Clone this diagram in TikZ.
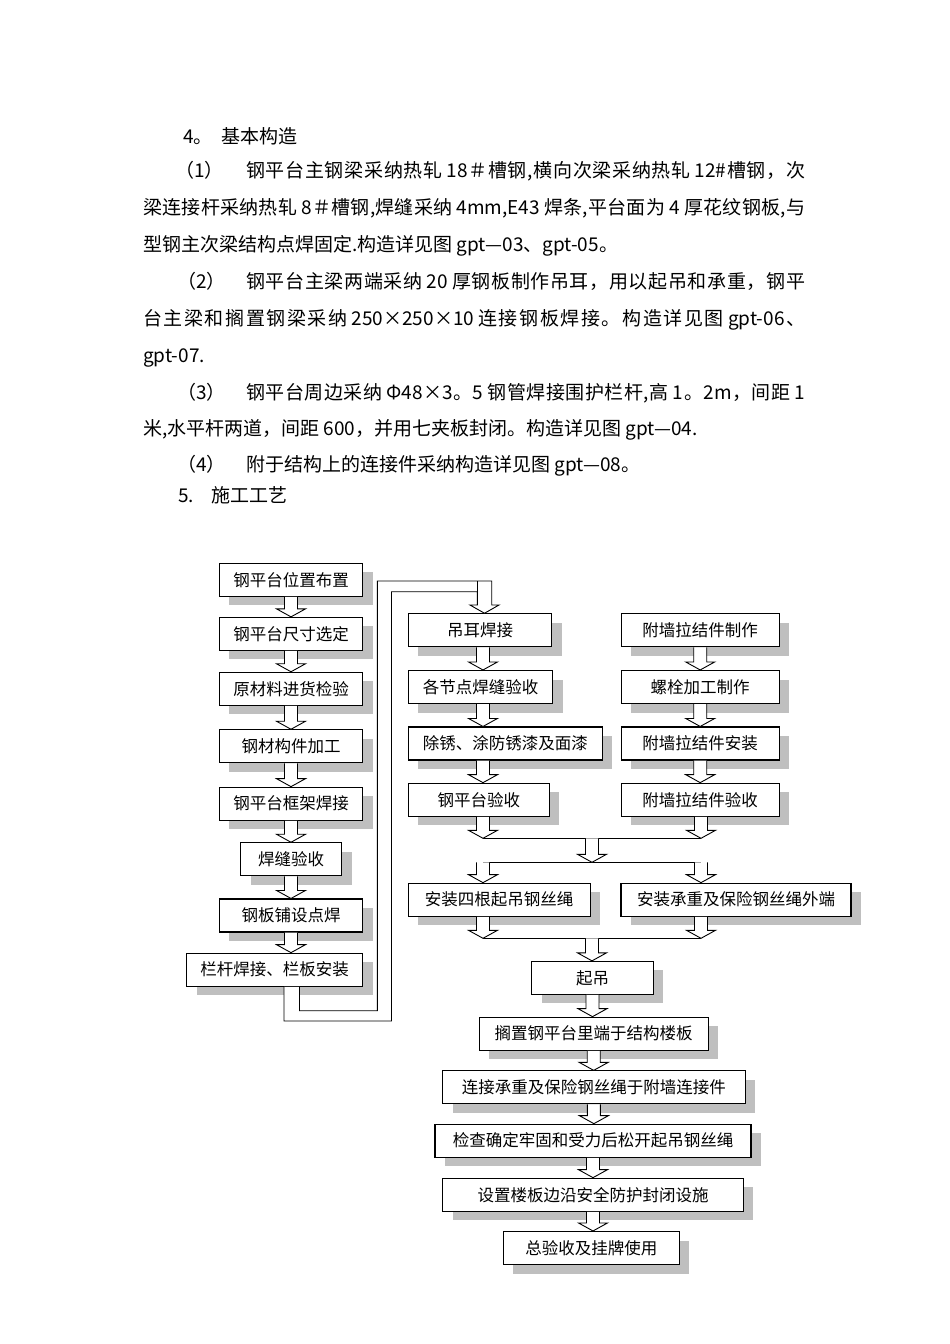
\documentclass[tikz,border=0pt]{standalone}
\usepackage{fontspec}
\usetikzlibrary{calc,shadows}
\newfontfamily\cjk{Noto Sans CJK SC}

% spread justified text lines between the CJK characters
\newcount\cjkcode
\cjkcode="3000
\loop \XeTeXcharclass\cjkcode=1 \advance\cjkcode by 1 \ifnum\cjkcode<"A000 \repeat
\cjkcode="FF00
\loop \XeTeXcharclass\cjkcode=1 \advance\cjkcode by 1 \ifnum\cjkcode<"FFF0 \repeat
\XeTeXinterchartoks 1 1 = {\hskip 0pt plus 1fil}
\XeTeXinterchartoks 0 1 = {\hskip 0pt plus 1fil}
\XeTeXinterchartoks 1 0 = {\hskip 0pt plus 1fil}

\newcommand{\bodyfont}{\cjk\fontsize{19}{19}\selectfont}
\newcommand{\boxfont}{\cjk\fontsize{16.5}{16.5}\selectfont}
\newcommand{\jline}[2]{\makebox[#1][s]{\XeTeXinterchartokenstate=1 #2}}
\newcommand{\flowarrow}[2]{%
    \path[arrowbody] ($(#1)+(-6.5,0)$) -- ($(#1 |- #2)+(-6.5,-8)$)
    -- ($(#1 |- #2)+(-14.5,-8)$) -- (#1 |- #2) -- ($(#1 |- #2)+(14.5,-8)$)
    -- ($(#1 |- #2)+(6.5,-8)$) -- ($(#1)+(6.5,0)$);}

\begin{document}
\begin{tikzpicture}
    [
        x=1pt, y=-1pt,
        para/.style={anchor=base west, inner sep=0pt, font=\bodyfont},
        stepbox/.style={draw, fill=white, line width=1.1pt, minimum height=33pt,
            inner sep=0pt, font=\boxfont,
            drop shadow={fill=black!25, opacity=1, shadow xshift=10pt, shadow yshift=-9pt}},
        arrowbody/.style={draw, fill=white, line width=0.9pt, line join=miter},
        joinline/.style={line width=0.9pt},
    ]
    \useasboundingbox (0,0) rectangle (950,1344);

    % text
    \node (hd4)  at (183,143.7) [para] {4。};
    \node (hd4t) at (221.7,143.7) [para] {基本构造};
    \node (p1n)  at (175,177.7) [para] {（1）};
    \node (p1a)  at (246,177.7) [para] {\jline{559pt}{钢平台主钢梁采纳热轧 18＃槽钢,横向次梁采纳热轧 12\#槽钢，次}};
    \node (p1b)  at (143,214.3) [para] {\jline{662pt}{梁连接杆采纳热轧 8＃槽钢,焊缝采纳 4mm,E43 焊条,平台面为 4 厚花纹钢板,与}};
    \node (p1c)  at (143,251)   [para] {型钢主次梁结构点焊固定.构造详见图 gpt—03、gpt-05。};
    \node (p2n)  at (177,288)   [para] {（2）};
    \node (p2a)  at (246,288)   [para] {\jline{559pt}{钢平台主梁两端采纳 20 厚钢板制作吊耳，用以起吊和承重，钢平}};
    \node (p2b)  at (143,325)   [para] {\jline{662pt}{台主梁和搁置钢梁采纳 250×250×10 连接钢板焊接。构造详见图 gpt-06、}};
    \node (p2c)  at (143,362)   [para] {gpt-07.};
    \node (p3n)  at (177,399)   [para] {（3）};
    \node (p3a)  at (246,399)   [para] {\jline{559pt}{钢平台周边采纳 Φ48×3。5 钢管焊接围护栏杆,高 1。2m，间距 1}};
    \node (p3b)  at (143,435)   [para] {米,水平杆两道，间距 600，并用七夹板封闭。构造详见图 gpt—04.};
    \node (p4n)  at (177,471)   [para] {（4）};
    \node (p4a)  at (246,471)   [para] {附于结构上的连接件采纳构造详见图 gpt—08。};
    \node (hd5)  at (178,502)   [para] {5.};
    \node (hd5t) at (211,502)   [para] {施工工艺};

    % left column
    \node (L1) at (291,579.7) [stepbox, minimum width=143.4pt] {钢平台位置布置};
    \node (L2) at (291,633.9) [stepbox, minimum width=143.4pt] {钢平台尺寸选定};
    \node (L3) at (291,688.8) [stepbox, minimum width=143.4pt] {原材料进货检验};
    \node (L4) at (291,746.3) [stepbox, minimum width=143.4pt] {钢材构件加工};
    \node (L5) at (291,803.7) [stepbox, minimum width=143.4pt] {钢平台框架焊接};
    \node (L6) at (291,859.3) [stepbox, minimum width=101pt]   {焊缝验收};
    \node (L7) at (291,915.5) [stepbox, minimum width=143.4pt] {钢板铺设点焊};
    \node (L8) at (274.7,969.7) [stepbox, minimum width=176pt] {栏杆焊接、栏板安装};

    % middle column
    \node (R1) at (480,630.3)   [stepbox, minimum width=143.4pt] {吊耳焊接};
    \node (R2) at (480.5,687)   [stepbox, minimum width=144.4pt] {各节点焊缝验收};
    \node (R3) at (505.3,743.5) [stepbox, minimum width=194pt]   {除锈、涂防锈漆及面漆};
    \node (R4) at (478.8,799.7) [stepbox, minimum width=141pt]   {钢平台验收};

    % right column
    \node (F1) at (700.2,630.3) [stepbox, minimum width=158.3pt] {附墙拉结件制作};
    \node (F2) at (700.2,687)   [stepbox, minimum width=158.3pt] {螺栓加工制作};
    \node (F3) at (700.2,743.5) [stepbox, minimum width=158.3pt] {附墙拉结件安装};
    \node (F4) at (700.2,799.7) [stepbox, minimum width=158.3pt] {附墙拉结件验收};

    % lower part
    \node (B1) at (499.2,899.7)  [stepbox, minimum width=181.7pt] {安装四根起吊钢丝绳};
    \node (B2) at (736,899.7)    [stepbox, minimum width=230pt]   {安装承重及保险钢丝绳外端};
    \node (B3) at (592.5,977.9)  [stepbox, minimum width=121.6pt] {起吊};
    \node (B4) at (593.7,1033.7) [stepbox, minimum width=229.3pt] {搁置钢平台里端于结构楼板};
    \node (B5) at (593.9,1087.4) [stepbox, minimum width=302.3pt] {连接承重及保险钢丝绳于附墙连接件};
    \node (B6) at (593,1140.7)   [stepbox, minimum width=316pt]   {检查确定牢固和受力后松开起吊钢丝绳};
    \node (B7) at (593,1194.7)   [stepbox, minimum width=300.6pt] {设置楼板边沿安全防护封闭设施};
    \node (B8) at (591.3,1248)   [stepbox, minimum width=176pt]   {总验收及挂牌使用};

    % arrows
    \flowarrow{L1.south}{L2.north}
    \flowarrow{L2.south}{L3.north}
    \flowarrow{L3.south}{L4.north}
    \flowarrow{L4.south}{L5.north}
    \flowarrow{L5.south}{L6.north}
    \flowarrow{L6.south}{L7.north}
    \flowarrow{L7.south}{L8.north}

    \coordinate (rs1) at ($(R1.south)+(3,0)$);
    \coordinate (rs2) at ($(R2.south)+(2.5,0)$);
    \coordinate (rs3) at ($(R3.south)+(-22.3,0)$);
    \flowarrow{rs1}{R2.north}
    \flowarrow{rs2}{R3.north}
    \flowarrow{rs3}{R4.north}

    \flowarrow{F1.south}{F2.north}
    \flowarrow{F2.south}{F3.north}
    \flowarrow{F3.south}{F4.north}

    % loop from the left column to the middle column
    \coordinate (lo) at ($(L8.south)+(9.3,0)$);
    \coordinate (li) at ($(L8.south)+(24.8,0)$);
    \coordinate (looptip) at ($(R1.north)+(4.5,0)$);
    \path[arrowbody] (lo) |- (391.5,1021) |- (477.3,591.7) -- (477.3,605) -- (470,605)
        -- (looptip) -- (499,605) -- (491.7,605) |- (377.3,581) |- (299.5,1010.7) -- (li);
    \draw[joinline] (477.3,581) -- (477.3,591.7);

    % joins
    \coordinate (j1l) at (483,838.3);
    \coordinate (j1m) at (592,838.3);
    \coordinate (j1r) at (701,838.3);
    \coordinate (j2l) at (483,862.3);
    \coordinate (j2m) at (592,862.3);
    \coordinate (j2r) at (701,862.3);
    \coordinate (j3l) at (483,938.3);
    \coordinate (j3m) at (592,938.3);
    \coordinate (j3r) at (701,938.3);
    \coordinate (r4out) at (R4.south -| j1l);
    \coordinate (f4out) at (F4.south -| j1r);
    \coordinate (b1out) at (B1.south -| j3l);
    \coordinate (b2out) at (B2.south -| j3r);

    \draw[joinline] (j1l) -- (j1r);
    \draw[joinline] (j2l) -- (j2r);
    \draw[joinline] (j3l) -- (j3r);
    \flowarrow{r4out}{j1l}
    \flowarrow{f4out}{j1r}
    \flowarrow{j1m}{j2m}
    \flowarrow{j2l}{B1.north}
    \flowarrow{j2r}{B2.north}
    \flowarrow{b1out}{j3l}
    \flowarrow{b2out}{j3r}
    \flowarrow{j3m}{B3.north}

    \flowarrow{B3.south}{B4.north}
    \flowarrow{B4.south}{B5.north}
    \flowarrow{B5.south}{B6.north}
    \flowarrow{B6.south}{B7.north}
    \flowarrow{B7.south}{B8.north}

\end{tikzpicture}
\end{document}
